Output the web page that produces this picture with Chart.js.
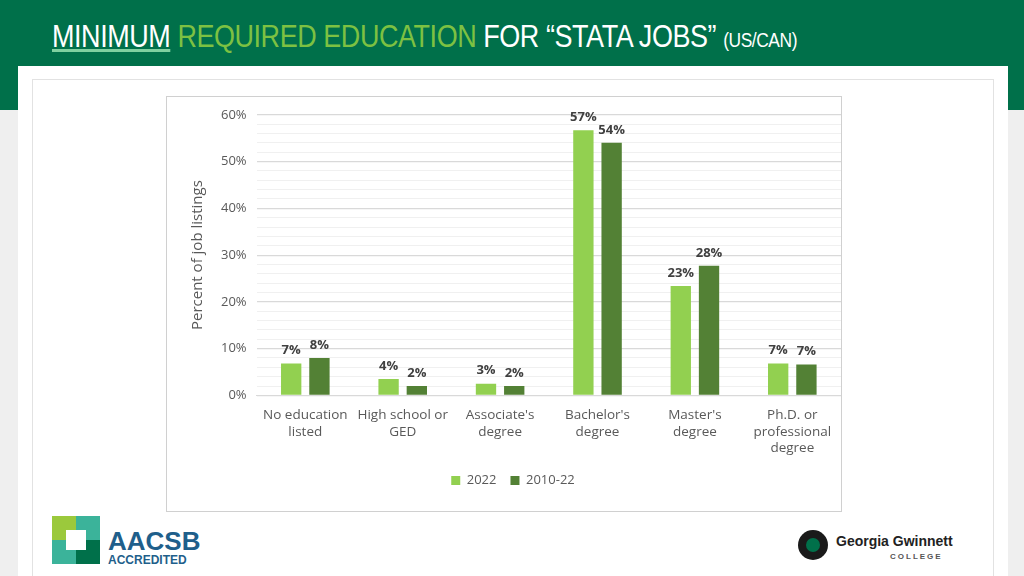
<!DOCTYPE html>
<html>
<head>
<meta charset="utf-8">
<script src="https://cdn.jsdelivr.net/npm/chart.js@4"></script>
<style>
  body { margin: 0; width: 1024px; height: 576px; background: #efefef; font-family: "Liberation Sans", Arial, sans-serif; position: relative; overflow: hidden; }
  #header { position: absolute; left: 0; top: 0; width: 1024px; height: 110px; background: #00704a; }
  #title { position: absolute; left: 52px; top: 19px; font-size: 31px; color: #fff; white-space: nowrap; transform: scaleX(0.87); transform-origin: left top; letter-spacing: -0.5px; }
  #title .u { text-decoration: underline; text-decoration-color: #7fd0a0; }
  #title .g { color: #7dc142; }
  #title .s { font-size: 20px; }
  #panel { position: absolute; left: 18px; top: 66px; width: 990px; height: 510px; background: #fff; }
  #inner { position: absolute; left: 32px; top: 79px; width: 960px; height: 497px; border: 1px solid #e2e2e2; background: #fff; }
  #box { position: absolute; left: 166px; top: 96px; width: 674px; height: 414px; border: 1px solid #d0d0d0; background: #fff; }
  #aacsb { position: absolute; left: 52px; top: 516px; }
  #ggc { position: absolute; left: 798px; top: 530px; font-family: "Liberation Sans", Arial, sans-serif; }
</style>
</head>
<body>
<div id="header"><div id="title"><span class="u">MINIMUM</span> <span class="g">REQUIRED EDUCATION</span> FOR “STATA JOBS” <span class="s">(US/CAN)</span></div></div>
<div id="panel"></div>
<div id="inner"></div>
<div id="box"><canvas id="c" width="674" height="414"></canvas></div>
<div id="aacsb">
  <div style="position:absolute;left:0;top:0;width:48px;height:48px;background:#3bb39a"></div>
  <div style="position:absolute;left:0;top:0;width:24px;height:24px;background:#9bc93c"></div>
  <div style="position:absolute;left:24px;top:24px;width:24px;height:24px;background:#00704a"></div>
  <div style="position:absolute;left:14px;top:14px;width:20px;height:20px;background:#fff"></div>
  <div style="position:absolute;left:56px;top:10px;font:bold 26px 'Liberation Sans';color:#1f5f8b;white-space:nowrap">AACSB</div>
  <div style="position:absolute;left:56px;top:37px;font:bold 12px 'Liberation Sans';color:#1f5f8b;white-space:nowrap">ACCREDITED</div>
</div>
<div id="ggc">
  <div style="position:absolute;left:0;top:0;width:30px;height:30px;border-radius:50%;background:#1a1a1a"></div>
  <div style="position:absolute;left:8px;top:8px;width:14px;height:14px;border-radius:50%;background:#00704a"></div>
  <div style="position:absolute;left:38px;top:3px;font:bold 14px 'Liberation Sans';color:#222;white-space:nowrap">Georgia Gwinnett</div>
  <div style="position:absolute;left:92px;top:22px;font:bold 8px 'Liberation Sans';color:#555;letter-spacing:2px">COLLEGE</div>
</div>
<script>
const categories = [["No education", "listed"], ["High school or", "GED"], ["Associate's", "degree"], ["Bachelor's", "degree"], ["Master's", "degree"], ["Ph.D. or", "professional", "degree"]];
const series2022 = [6.8, 3.5, 2.5, 56.7, 23.4, 6.8];
const series2010 = [8.0, 2.0, 2.0, 54.0, 27.7, 6.6];
const yTicks = [0, 10, 20, 30, 40, 50, 60];

const labelPlugin = {
  id: "labels",
  afterDatasetsDraw(chart) {
    const ctx = chart.ctx;
    ctx.save();
    ctx.font = "bold 13px 'Open Sans'";
    ctx.fillStyle = "#404040";
    ctx.textAlign = "center";
    chart.data.datasets.forEach((ds, i) => {
      chart.getDatasetMeta(i).data.forEach((bar, j) => {
        ctx.fillText(Math.round(ds.data[j]) + "%", bar.x, bar.y - 13);
      });
    });
    ctx.restore();
  }
};

new Chart(document.getElementById("c"), {
  type: "bar",
  data: {
    labels: categories,
    datasets: [
      { label: "2022", data: series2022, backgroundColor: "#92d050", categoryPercentage: 0.58, barPercentage: 0.72 },
      { label: "2010-22", data: series2010, backgroundColor: "#538135", categoryPercentage: 0.58, barPercentage: 0.72 }
    ]
  },
  options: {
    responsive: false,
    animation: false,
    layout: { padding: { left: 18, right: 0, top: 14, bottom: 14 } },
    plugins: {
      legend: {
        position: "bottom",
        labels: { boxWidth: 9, boxHeight: 9, font: { family: "Open Sans", size: 13 }, color: "#595959", padding: 14 }
      },
      tooltip: { enabled: false }
    },
    scales: {
      x: {
        grid: { display: false },
        border: { color: "#d9d9d9" },
        ticks: { autoSkip: false, font: { family: "Open Sans", size: 13.5 }, color: "#595959", maxRotation: 0, padding: 4 }
      },
      y: {
        min: 0, max: 60,
        border: { display: false },
        grid: {
          color: (c) => yTicks.includes(c.tick.value) ? "#d9d9d9" : "#f0f0f0",
          lineWidth: (c) => yTicks.includes(c.tick.value) ? 1.2 : 1,
          drawTicks: false
        },
        ticks: {
          stepSize: 2,
          autoSkip: false,
          padding: 10,
          font: { family: "Open Sans", size: 13 },
          color: "#595959",
          callback: (v) => yTicks.includes(v) ? v + "%" : ""
        },
        title: { display: true, text: "Percent of job listings", font: { family: "Open Sans", size: 15 }, color: "#595959" }
      }
    }
  },
  plugins: [labelPlugin]
});
</script>
</body>
</html>
